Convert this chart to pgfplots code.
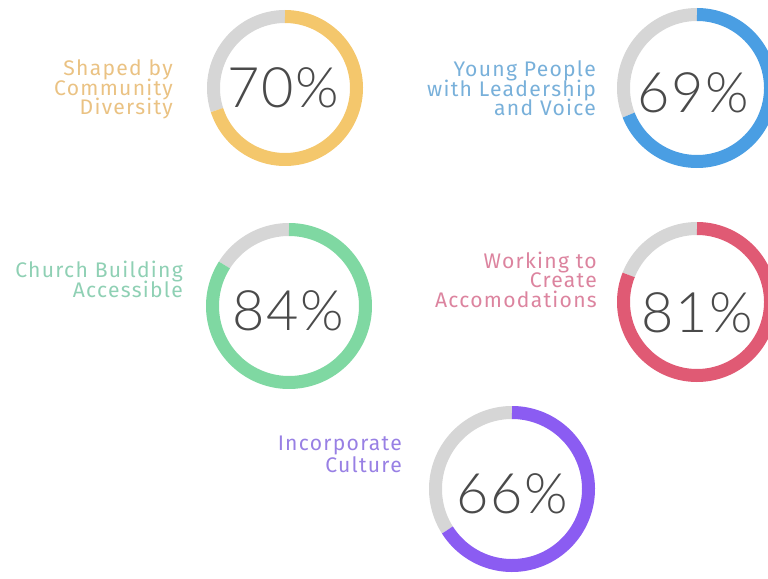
\documentclass[border=0pt]{standalone}
\usepackage{pgfplots}
\pgfplotsset{compat=1.18}
\usepackage{fontspec}
\setmainfont{Fira Sans}[LetterSpace=6]
\newfontfamily\numfont{Lato Light}[LetterSpace=3]
\definecolor{cgray}{HTML}{D6D6D6}
\definecolor{cyel}{HTML}{F4C76C}
\definecolor{cyelT}{HTML}{EAC283}
\definecolor{cblue}{HTML}{4A9EE3}
\definecolor{cblueT}{HTML}{78B0DA}
\definecolor{cgreen}{HTML}{7FD8A2}
\definecolor{cgreenT}{HTML}{8FD0B4}
\definecolor{cred}{HTML}{E05A74}
\definecolor{credT}{HTML}{DC849F}
\definecolor{cpur}{HTML}{8B5CF2}
\definecolor{cpurT}{HTML}{9880E4}
\definecolor{cnum}{HTML}{4A4A4A}
\tikzset{
  lab/.style={font=\fontsize{21.2}{19}\selectfont, anchor=base east, inner sep=0pt},
  num/.style={font=\numfont\fontsize{56}{56}\selectfont, text=cnum, anchor=base, inner sep=0pt},
}
% \ring{cx}{cy}{r}{percent}{colour}
\newcommand{\ring}[5]{%
  \addplot[cgray, line width=13bp, domain={3.6*#4}:360, samples=120, no marks]
    ({#1+#3*sin(x)},{#2-#3*cos(x)});
  \addplot[#5, line width=13bp, domain=0:{3.6*#4}, samples=150, no marks]
    ({#1+#3*sin(x)},{#2-#3*cos(x)});
}
\begin{document}
\begin{tikzpicture}
\begin{axis}[
  width=768bp, height=579bp, scale only axis,
  xmin=0, xmax=768, ymin=0, ymax=579, y dir=reverse,
  axis line style={draw=none}, xtick=\empty, ytick=\empty,
]
\ring{285}{88}{71.5}{70}{cyel}
\ring{697}{88}{73.5}{69}{cblue}
\ring{289}{306}{76.5}{84}{cgreen}
\ring{697}{302}{73.5}{81}{cred}
\ring{512}{489}{76.5}{66}{cpur}

\node[num] at (axis cs:283,107) {70\%};
\node[num] at (axis cs:693,112) {69\%};
\node[num] at (axis cs:288,330) {84\%};
\node[num] at (axis cs:697,332) {81\%};
\node[num] at (axis cs:512,513) {66\%};

\node[lab, text=cyelT] at (axis cs:173,76) {Shaped by};
\node[lab, text=cyelT] at (axis cs:173,95) {Community};
\node[lab, text=cyelT] at (axis cs:173,114) {Diversity};

\node[lab, text=cblueT] at (axis cs:596,77) {Young People};
\node[lab, text=cblueT] at (axis cs:596,96) {with Leadership};
\node[lab, text=cblueT] at (axis cs:596,115) {and Voice};

\node[lab, text=cgreenT] at (axis cs:183,277) {Church Building};
\node[lab, text=cgreenT] at (axis cs:183,297) {Accessible};

\node[lab, text=credT] at (axis cs:597,268) {Working to};
\node[lab, text=credT] at (axis cs:597,287) {Create};
\node[lab, text=credT] at (axis cs:597,307) {Accomodations};

\node[lab, text=cpurT] at (axis cs:402,450) {Incorporate};
\node[lab, text=cpurT] at (axis cs:402,472) {Culture};
\end{axis}
\end{tikzpicture}
\end{document}
